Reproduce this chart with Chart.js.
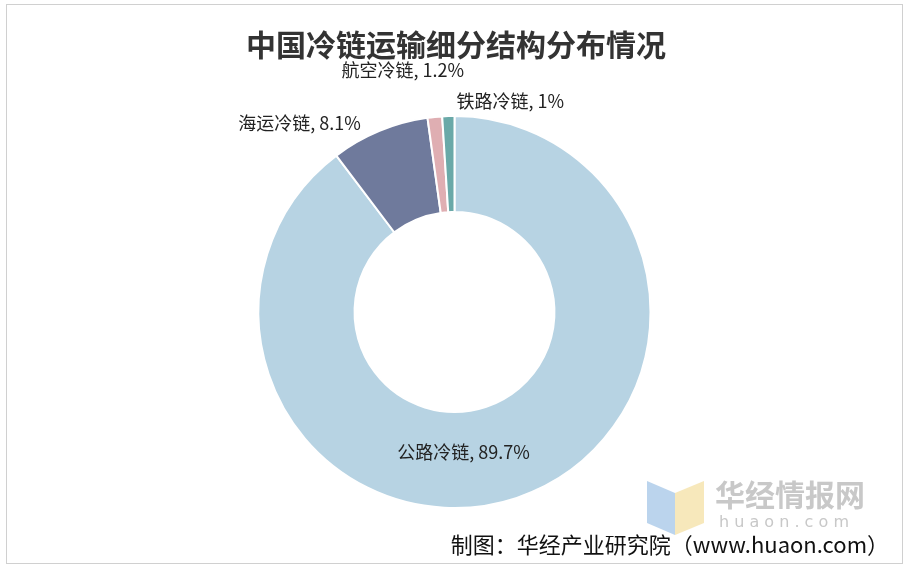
<!DOCTYPE html>
<html><head><meta charset="utf-8">
<script src="https://cdn.jsdelivr.net/npm/chart.js@4"></script>
<style>
html,body{margin:0;padding:0;background:#fff;}
#wrap{position:absolute;left:6px;top:4px;width:897px;height:560px;border:1px solid #d0d0d0;box-sizing:border-box;}
canvas{display:block;}
</style></head><body>
<div id="wrap"><canvas id="c" width="895" height="558"></canvas></div>
<script>
const categories = ['公路冷链','海运冷链','航空冷链','铁路冷链'];
const values = [89.7, 8.1, 1.2, 1];
const colors = ['#b7d3e3','#6f7a9c','#dfaeb2','#6aa9a8'];
const labelOffsets = [[-38,0],[-80,-8],[-32,-47],[62,-15]];

const labelPlugin = {
  id:'labels',
  afterDraw(chart){
    const ctx = chart.ctx;
    const meta = chart.getDatasetMeta(0);
    ctx.save();
    ctx.font = '18px "Noto Sans CJK SC", sans-serif';
    ctx.fillStyle = '#222';
    ctx.textAlign='center'; ctx.textBaseline='middle';
    meta.data.forEach((arc,i)=>{
      const mid=(arc.startAngle+arc.endAngle)/2;
      const r = i===0 ? (arc.innerRadius+arc.outerRadius)/2 : arc.outerRadius;
      const x = arc.x+Math.cos(mid)*r+labelOffsets[i][0];
      const y = arc.y+Math.sin(mid)*r+labelOffsets[i][1];
      ctx.fillText(categories[i]+', '+values[i]+'%', x, y);
    });
    ctx.font='bold 30px "Noto Sans CJK SC", sans-serif';
    ctx.fillStyle='#333';
    ctx.fillText('中国冷链运输细分结构分布情况', 449, 40);
    ctx.font='bold 30px "Noto Sans CJK SC", sans-serif';
    ctx.fillStyle='#c8c8c8';
    ctx.textAlign='left';
    ctx.fillText('华经情报网', 708, 490);
    ctx.font='16px "DejaVu Sans", sans-serif';
    ctx.fillText('h u a o n . c o m', 712, 518);
    ctx.fillStyle='rgba(120,170,220,0.5)';
    ctx.beginPath();ctx.moveTo(640,476);ctx.lineTo(668,488);ctx.lineTo(668,530);ctx.lineTo(640,518);ctx.fill();
    ctx.fillStyle='rgba(240,210,120,0.5)';
    ctx.beginPath();ctx.moveTo(668,488);ctx.lineTo(697,476);ctx.lineTo(697,518);ctx.lineTo(668,530);ctx.fill();
    ctx.font='22px "Noto Sans CJK SC", sans-serif';
    ctx.fillStyle='#111';
    ctx.textAlign='right';
    ctx.fillText('制图：华经产业研究院（www.huaon.com）', 882, 540);
    ctx.restore();
  }
};

new Chart(document.getElementById('c'),{
  type:'doughnut',
  data:{labels:categories,datasets:[{data:values,backgroundColor:colors,borderColor:'#fff',borderWidth:2}]},
  options:{
    responsive:false,animation:false,cutout:'51%',
    layout:{padding:{top:110,bottom:54,left:0,right:0}},
    plugins:{legend:{display:false},tooltip:{enabled:false}}
  },
  plugins:[labelPlugin]
});
</script></body></html>
